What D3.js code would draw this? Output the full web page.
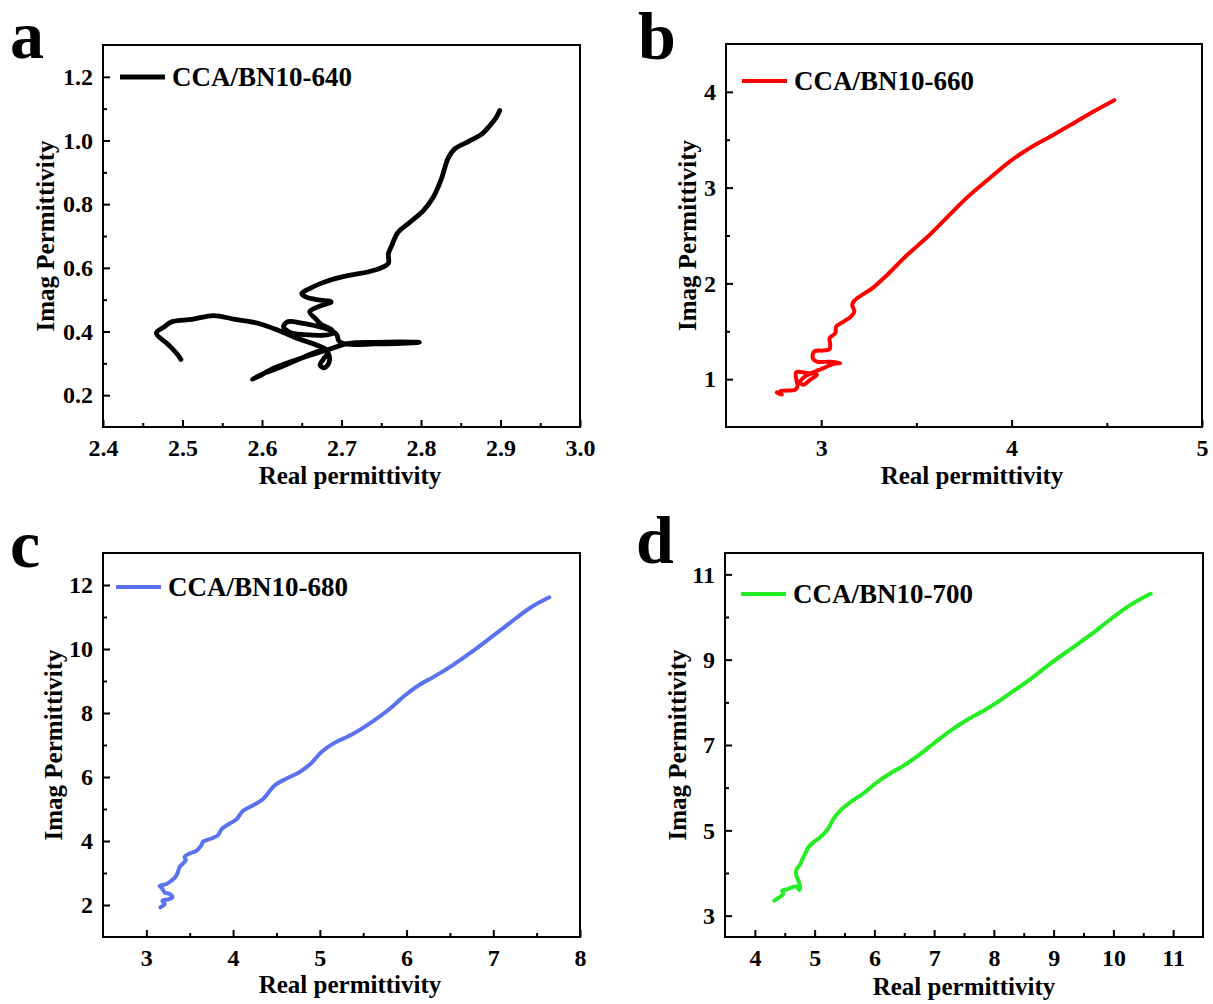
<!DOCTYPE html>
<html>
<head>
<meta charset="utf-8">
<script src="https://cdn.jsdelivr.net/npm/d3@7"></script>
<style>
  body { margin: 0; background: #fff; }
  svg text { font-family: "Times New Roman", "Liberation Serif", serif; font-weight: bold; fill: #000; }
</style>
</head>
<body>
<div id="chart"></div>
<script>
// data (real / imag permittivity)
const real640 = [2.498, 2.494, 2.482, 2.467, 2.476, 2.487, 2.512, 2.539, 2.566, 2.595, 2.621, 2.646, 2.667, 2.683, 2.677, 2.673, 2.677, 2.683, 2.685, 2.681, 2.671, 2.650, 2.621, 2.604, 2.588, 2.595, 2.616, 2.650, 2.683, 2.708, 2.742, 2.775, 2.798, 2.775, 2.742, 2.708, 2.697, 2.694, 2.683, 2.667, 2.650, 2.633, 2.627, 2.635, 2.654, 2.675, 2.690, 2.687, 2.675, 2.667, 2.660, 2.671, 2.687, 2.667, 2.655, 2.650, 2.660, 2.675, 2.692, 2.713, 2.733, 2.750, 2.759, 2.759, 2.763, 2.771, 2.788, 2.803, 2.815, 2.826, 2.834, 2.842, 2.859, 2.876, 2.887, 2.895, 2.899];
const imag640 = [0.312, 0.327, 0.359, 0.395, 0.413, 0.431, 0.438, 0.450, 0.438, 0.426, 0.403, 0.377, 0.359, 0.338, 0.312, 0.296, 0.286, 0.296, 0.317, 0.338, 0.338, 0.317, 0.286, 0.270, 0.250, 0.258, 0.286, 0.317, 0.343, 0.362, 0.366, 0.367, 0.366, 0.363, 0.361, 0.360, 0.369, 0.390, 0.407, 0.418, 0.426, 0.431, 0.416, 0.397, 0.390, 0.388, 0.395, 0.407, 0.421, 0.441, 0.462, 0.478, 0.493, 0.501, 0.509, 0.519, 0.535, 0.552, 0.566, 0.578, 0.587, 0.600, 0.615, 0.644, 0.669, 0.711, 0.747, 0.780, 0.820, 0.882, 0.944, 0.973, 0.996, 1.019, 1.048, 1.074, 1.094];

const real660 = [2.767, 2.793, 2.784, 2.863, 2.875, 2.868, 2.928, 2.977, 2.942, 2.907, 2.889, 2.916, 2.951, 3.012, 3.065, 3.100, 3.047, 2.977, 2.956, 2.963, 3.012, 3.044, 3.047, 3.044, 3.074, 3.079, 3.118, 3.156, 3.174, 3.163, 3.174, 3.223, 3.275, 3.346, 3.451, 3.556, 3.661, 3.767, 3.889, 3.995, 4.100, 4.223, 4.328, 4.433, 4.539];
const imag660 = [0.861, 0.837, 0.871, 0.889, 0.923, 1.070, 1.063, 1.045, 0.993, 0.941, 0.965, 1.028, 1.063, 1.115, 1.160, 1.167, 1.181, 1.184, 1.219, 1.288, 1.299, 1.313, 1.368, 1.428, 1.480, 1.549, 1.601, 1.653, 1.706, 1.775, 1.820, 1.890, 1.959, 2.088, 2.296, 2.481, 2.689, 2.898, 3.106, 3.280, 3.419, 3.555, 3.676, 3.798, 3.913];

const real680 = [3.162, 3.212, 3.185, 3.250, 3.300, 3.269, 3.212, 3.192, 3.173, 3.154, 3.231, 3.288, 3.338, 3.365, 3.385, 3.423, 3.454, 3.442, 3.500, 3.577, 3.635, 3.654, 3.750, 3.827, 3.865, 3.962, 4.038, 4.115, 4.231, 4.346, 4.423, 4.481, 4.615, 4.769, 4.904, 5.019, 5.154, 5.385, 5.615, 5.808, 5.981, 6.154, 6.308, 6.538, 6.731, 6.962, 7.192, 7.423, 7.646];
const imag680 = [1.927, 2.031, 2.135, 2.177, 2.239, 2.343, 2.385, 2.468, 2.551, 2.593, 2.655, 2.759, 2.884, 3.040, 3.195, 3.299, 3.403, 3.507, 3.611, 3.694, 3.871, 3.975, 4.079, 4.183, 4.360, 4.547, 4.672, 4.942, 5.119, 5.316, 5.566, 5.742, 5.950, 6.158, 6.439, 6.782, 7.042, 7.353, 7.748, 8.133, 8.549, 8.892, 9.121, 9.505, 9.869, 10.337, 10.815, 11.283, 11.615];

const real700 = [4.325, 4.392, 4.476, 4.459, 4.560, 4.616, 4.700, 4.739, 4.756, 4.728, 4.689, 4.700, 4.756, 4.784, 4.840, 4.896, 4.980, 5.092, 5.204, 5.316, 5.428, 5.596, 5.820, 6.044, 6.268, 6.492, 6.772, 6.996, 7.276, 7.555, 7.835, 8.059, 8.339, 8.619, 8.955, 9.291, 9.627, 9.963, 10.299, 10.624];
const imag700 = [3.352, 3.415, 3.508, 3.586, 3.625, 3.665, 3.680, 3.602, 3.665, 3.821, 3.977, 4.095, 4.196, 4.290, 4.446, 4.603, 4.720, 4.837, 4.994, 5.267, 5.463, 5.658, 5.869, 6.127, 6.339, 6.518, 6.792, 7.042, 7.339, 7.590, 7.808, 8.004, 8.278, 8.551, 8.919, 9.255, 9.591, 9.959, 10.295, 10.545];

// tick values
const xTicksA = [2.4, 2.5, 2.6, 2.7, 2.8, 2.9, 3.0];
const xMinorA = [2.45, 2.55, 2.65, 2.75, 2.85, 2.95];
const yTicksA = [0.2, 0.4, 0.6, 0.8, 1.0, 1.2];
const yMinorA = [0.3, 0.5, 0.7, 0.9, 1.1];

const xTicksB = [3, 4, 5];
const xMinorB = [3.5, 4.5];
const yTicksB = [1, 2, 3, 4];
const yMinorB = [1.5, 2.5, 3.5];

const xTicksC = [3, 4, 5, 6, 7, 8];
const xMinorC = [3.5, 4.5, 5.5, 6.5, 7.5];
const yTicksC = [2, 4, 6, 8, 10, 12];
const yMinorC = [3, 5, 7, 9, 11];

const xTicksD = [4, 5, 6, 7, 8, 9, 10, 11];
const xMinorD = [4.5, 5.5, 6.5, 7.5, 8.5, 9.5, 10.5];
const yTicksD = [3, 5, 7, 9, 11];
const yMinorD = [4, 6, 8, 10];

const w = 1213;
const h = 1004;

const svg = d3.select("#chart")
  .append("svg")
  .attr("width", w)
  .attr("height", h);

const panels = [
  { letter: "a", lx: 10, ly: 58, x0: 103, x1: 580, y0: 45, y1: 427,
    xDom: [2.4, 3.0], yDom: [0.1, 1.3], real: real640, imag: imag640, color: "#000000", width: 4.8,
    xt: xTicksA, xm: xMinorA, yt: yTicksA, ym: yMinorA, xf: d3.format(".1f"), yf: d3.format(".1f"),
    name: "CCA/BN10-640", legX: 120, legY: 77, ylabX: 54, xlabX: 350, xlabY: 484 },
  { letter: "b", lx: 638, ly: 59, x0: 726, x1: 1202, y0: 44, y1: 427,
    xDom: [2.5, 5.0], yDom: [0.5, 4.5], real: real660, imag: imag660, color: "#ff0000", width: 4,
    xt: xTicksB, xm: xMinorB, yt: yTicksB, ym: yMinorB, xf: d3.format("d"), yf: d3.format("d"),
    name: "CCA/BN10-660", legX: 742, legY: 81, ylabX: 696, xlabX: 972, xlabY: 484 },
  { letter: "c", lx: 10, ly: 567, x0: 103, x1: 580, y0: 553, y1: 937,
    xDom: [2.5, 8], yDom: [1, 13], real: real680, imag: imag680, color: "#5a72f0", width: 4,
    xt: xTicksC, xm: xMinorC, yt: yTicksC, ym: yMinorC, xf: d3.format("d"), yf: d3.format("d"),
    name: "CCA/BN10-680", legX: 116, legY: 587, ylabX: 62, xlabX: 350, xlabY: 993 },
  { letter: "d", lx: 636, ly: 563, x0: 725, x1: 1203, y0: 553, y1: 937,
    xDom: [3.5, 11.5], yDom: [2.5, 11.5], real: real700, imag: imag700, color: "#22ee22", width: 4,
    xt: xTicksD, xm: xMinorD, yt: yTicksD, ym: yMinorD, xf: d3.format("d"), yf: d3.format("d"),
    name: "CCA/BN10-700", legX: 741, legY: 594, ylabX: 686, xlabX: 964, xlabY: 995 }
];

panels.forEach(p => {
  const xScale = d3.scaleLinear().domain(p.xDom).range([p.x0, p.x1]);
  const yScale = d3.scaleLinear().domain(p.yDom).range([p.y1, p.y0]);
  const g = svg.append("g");

  // major + minor ticks, pointing inward
  const xAxis = d3.axisBottom(xScale).tickValues(p.xt).tickFormat(p.xf)
    .tickSizeInner(-7).tickSizeOuter(0).tickPadding(12);
  const xMinor = d3.axisBottom(xScale).tickValues(p.xm).tickFormat("")
    .tickSizeInner(-4).tickSizeOuter(0);
  const yAxis = d3.axisLeft(yScale).tickValues(p.yt).tickFormat(p.yf)
    .tickSizeInner(-7).tickSizeOuter(0).tickPadding(10);
  const yMinor = d3.axisLeft(yScale).tickValues(p.ym).tickFormat("")
    .tickSizeInner(-4).tickSizeOuter(0);

  [xAxis, xMinor].forEach(ax => {
    g.append("g").attr("transform", `translate(0, ${p.y1})`).call(ax);
  });
  [yAxis, yMinor].forEach(ax => {
    g.append("g").attr("transform", `translate(${p.x0}, 0)`).call(ax);
  });
  g.selectAll(".domain").remove();
  g.selectAll(".tick line").attr("stroke", "#000").attr("stroke-width", 2);
  g.selectAll(".tick text")
    .style("font-size", "24px")
    .style("font-family", "'Times New Roman', 'Liberation Serif', serif")
    .style("font-weight", "bold")
    .attr("fill", "#000");

  // frame
  g.append("rect")
    .attr("x", p.x0).attr("y", p.y0)
    .attr("width", p.x1 - p.x0).attr("height", p.y1 - p.y0)
    .attr("fill", "none").attr("stroke", "#000").attr("stroke-width", 2);

  // curve
  const pts = p.real.map((r, i) => [r, p.imag[i]]);
  const line = d3.line()
    .x(d => xScale(d[0]))
    .y(d => yScale(d[1]))
    .curve(d3.curveCatmullRom.alpha(0.5));

  g.append("path")
    .datum(pts)
    .attr("d", line)
    .attr("fill", "none")
    .attr("stroke", p.color)
    .attr("stroke-width", p.width)
    .attr("stroke-linejoin", "round")
    .attr("stroke-linecap", "round");

  // legend
  g.append("line")
    .attr("x1", p.legX).attr("x2", p.legX + 45)
    .attr("y1", p.legY).attr("y2", p.legY)
    .attr("stroke", p.color).attr("stroke-width", p.width);
  g.append("text")
    .attr("x", p.legX + 52).attr("y", p.legY + 9)
    .style("font-size", "27px")
    .text(p.name);

  // axis titles
  g.append("text")
    .attr("x", p.xlabX).attr("y", p.xlabY)
    .attr("text-anchor", "middle")
    .style("font-size", "25px")
    .text("Real permittivity");

  g.append("text")
    .attr("transform", `translate(${p.ylabX}, ${(p.y0 + p.y1) / 2}) rotate(-90)`)
    .attr("text-anchor", "middle")
    .style("font-size", "25px")
    .text("Imag Permittivity");

  // panel letter
  svg.append("text")
    .attr("x", p.lx).attr("y", p.ly)
    .style("font-size", "68px")
    .text(p.letter);
});
</script>
</body>
</html>
